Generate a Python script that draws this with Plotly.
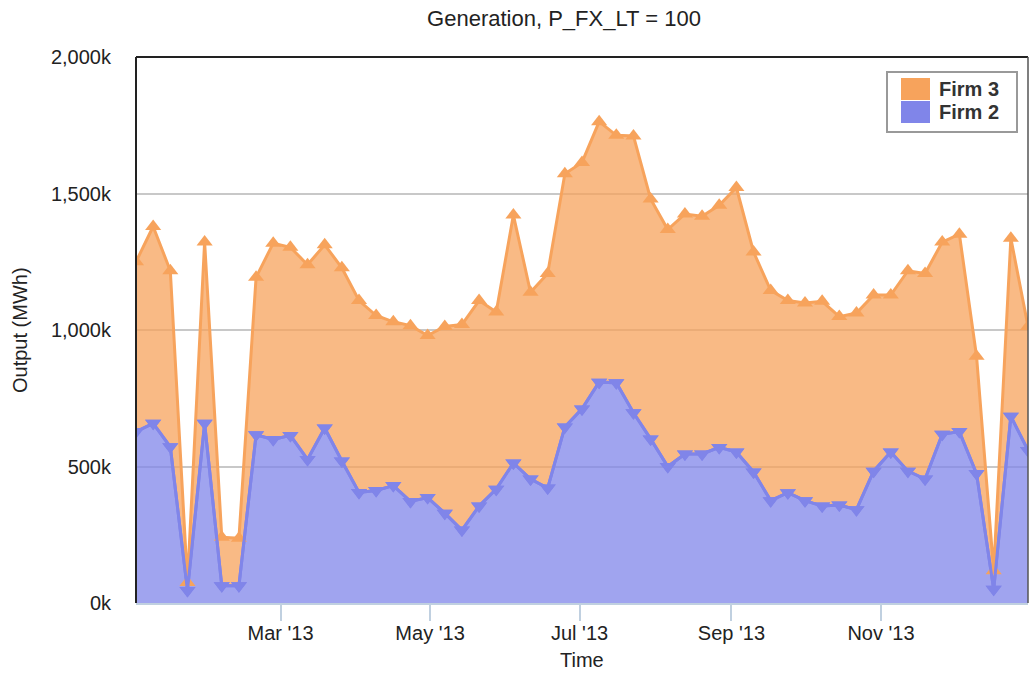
import pandas as pd
import plotly.graph_objects as go

# Weekly generation output (thousand MWh), 2013
weeks = pd.date_range("2013-01-01", periods=53, freq="7D")

firm2 = [628, 658, 572, 46, 658, 63, 63, 616, 599, 614, 526, 641, 520, 405,
         412, 430, 372, 386, 329, 267, 355, 417, 513, 454, 421, 645, 711, 809,
         807, 697, 601, 500, 546, 546, 570, 553, 480, 375, 404, 375, 355, 359,
         342, 483, 553, 483, 454, 618, 628, 474, 50, 684, 559]

firm3 = [622, 721, 645, 29, 664, 178, 174, 577, 719, 689, 713, 671, 708, 703,
         641, 600, 644, 594, 684, 753, 753, 649, 908, 684, 786, 927, 903, 954,
         906, 1014, 879, 868, 879, 871, 887, 969, 806, 770, 704, 724, 750, 690,
         720, 645, 575, 734, 753, 704, 723, 430, 68, 652, 454]

y_ticks = [0, 500, 1000, 1500, 2000]
y_tick_text = ["0k", "500k", "1,000k", "1,500k", "2,000k"]
x_ticks = ["2013-03-01", "2013-05-01", "2013-07-01", "2013-09-01", "2013-11-01"]
x_tick_text = ["Mar '13", "May '13", "Jul '13", "Sep '13", "Nov '13"]

ORANGE = "#F7A35C"
BLUE = "#8085E9"
ORANGE_FILL = "rgba(247,163,92,0.75)"
BLUE_FILL = "rgba(128,133,233,0.75)"
FONT = "Liberation Sans, Arial, Helvetica, sans-serif"
MARKER_SIZE = 14

# plot area in pixels
W, H = 1029, 673
L, R, T, B = 136, 1028, 57, 603


def px_x(x):
    return (x - L) / (R - L)


def px_y(y):
    return (B - y) / (B - T)


fig = go.Figure()

fig.add_trace(go.Scatter(
    x=weeks, y=firm2, name="Firm 2", stackgroup="gen", mode="lines+markers",
    line=dict(color=BLUE, width=3), fillcolor=BLUE_FILL,
    marker=dict(symbol="triangle-down", size=MARKER_SIZE, color=BLUE),
    showlegend=False, hoverinfo="x+y+name",
))
fig.add_trace(go.Scatter(
    x=weeks, y=firm3, name="Firm 3", stackgroup="gen", mode="lines+markers",
    line=dict(color=ORANGE, width=3), fillcolor=ORANGE_FILL,
    marker=dict(symbol="triangle-up", size=MARKER_SIZE, color=ORANGE),
    showlegend=False, hoverinfo="x+y+name",
))
# Firm 2 outline redrawn above the Firm 3 series
fig.add_trace(go.Scatter(
    x=weeks, y=firm2, mode="lines+markers",
    line=dict(color=BLUE, width=3),
    marker=dict(symbol="triangle-down", size=MARKER_SIZE, color=BLUE),
    showlegend=False, hoverinfo="skip",
))

shapes = [
    # plot frame: left, top, right
    dict(type="line", xref="paper", yref="paper", x0=0, x1=0, y0=0, y1=1,
         line=dict(color="#222", width=2)),
    dict(type="line", xref="paper", yref="paper", x0=0, x1=1, y0=1, y1=1,
         line=dict(color="#222", width=2)),
    dict(type="line", xref="paper", yref="paper", x0=1, x1=1, y0=0, y1=1,
         line=dict(color="#555", width=1.5)),
    # legend box
    dict(type="rect", xref="paper", yref="paper",
         x0=px_x(887), x1=px_x(1017), y0=px_y(132), y1=px_y(72),
         line=dict(color="#999", width=2), fillcolor="white"),
    dict(type="rect", xref="paper", yref="paper",
         x0=px_x(901), x1=px_x(930), y0=px_y(100), y1=px_y(78),
         line=dict(width=0), fillcolor=ORANGE),
    dict(type="rect", xref="paper", yref="paper",
         x0=px_x(901), x1=px_x(930), y0=px_y(123), y1=px_y(101),
         line=dict(width=0), fillcolor=BLUE),
]

annotations = [
    dict(text="<b>Firm 3</b>", xref="paper", yref="paper", x=px_x(937), y=px_y(89),
         xanchor="left", yanchor="middle", showarrow=False,
         font=dict(family=FONT, size=20, color="#333")),
    dict(text="<b>Firm 2</b>", xref="paper", yref="paper", x=px_x(937), y=px_y(112),
         xanchor="left", yanchor="middle", showarrow=False,
         font=dict(family=FONT, size=20, color="#333")),
    dict(text="Time", xref="paper", yref="paper", x=0.5, y=px_y(660),
         xanchor="center", yanchor="middle", showarrow=False,
         font=dict(family=FONT, size=20, color="#222")),
    dict(text="Output (MWh)", xref="paper", yref="paper", x=px_x(20), y=0.5,
         xanchor="center", yanchor="middle", showarrow=False, textangle=-90,
         font=dict(family=FONT, size=20, color="#222")),
]

fig.update_layout(
    width=W, height=H,
    margin=dict(l=L, r=W - R, t=T, b=H - B),
    paper_bgcolor="white", plot_bgcolor="white",
    font=dict(family=FONT, size=20, color="#222"),
    title=dict(text="Generation, P_FX_LT = 100", x=564 / W, xanchor="center",
               y=1 - 18 / H, yanchor="middle",
               font=dict(family=FONT, size=22, color="#222")),
    showlegend=False,
    shapes=shapes,
    annotations=annotations,
    xaxis=dict(
        type="date", range=["2013-01-01", "2013-12-31"],
        tickvals=x_ticks, ticktext=x_tick_text,
        ticks="outside", ticklen=16, tickwidth=1.5, tickcolor="#C0D0E0",
        showline=True, linecolor="#C0D0E0", linewidth=2,
        showgrid=False, zeroline=False,
        ticklabelstandoff=-5,
        tickfont=dict(family=FONT, size=20, color="#222"),
    ),
    yaxis=dict(
        range=[0, 2000], tickvals=y_ticks, ticktext=y_tick_text,
        showgrid=True, gridcolor="#C8C8C8", gridwidth=1.5,
        zeroline=False, showline=False, ticks="",
        ticklabelstandoff=24,
        tickfont=dict(family=FONT, size=20, color="#222"),
    ),
)

fig.write_html("out.html")
